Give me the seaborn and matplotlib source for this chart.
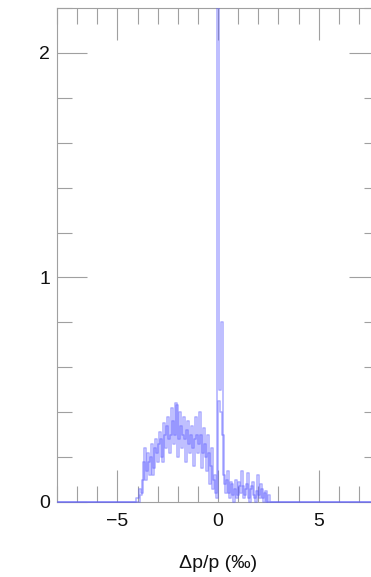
import numpy as np
import pandas as pd
import matplotlib
matplotlib.use("Agg")
import matplotlib.pyplot as plt
import seaborn as sns
from matplotlib.ticker import MultipleLocator
from matplotlib.transforms import Bbox, TransformedBbox

# ---- data ----
bin_width = 0.1
start_a = -4.0    # centre of the first bin of series A
start_b = -3.95   # centre of the first bin of series B
series_a = [0.02, 0.06, 0.04, 0.18, 0.10, 0.22, 0.12, 0.26, 0.15, 0.28,
            0.18, 0.31, 0.20, 0.35, 0.24, 0.38, 0.22, 0.42, 0.26, 0.44,
            0.20, 0.40, 0.24, 0.38, 0.18, 0.36, 0.22, 0.34, 0.16, 0.38,
            0.22, 0.40, 0.15, 0.33, 0.20, 0.30, 0.08, 0.24, 0.10, 0.04,
            2.40, 0.50, 0.80, 0.12, 0.04, 0.14, 0.02, 0.08, 0.00, 0.10,
            0.03, 0.07, 0.14, 0.02, 0.06, 0.13, 0.00, 0.07, 0.03, 0.00,
            0.12, 0.02, 0.06, 0.00, 0.05, 0.00]
series_b = [0.00, 0.03, 0.10, 0.24, 0.14, 0.18, 0.20, 0.12, 0.24, 0.22,
            0.26, 0.28, 0.18, 0.30, 0.34, 0.28, 0.30, 0.36, 0.30, 0.43,
            0.28, 0.34, 0.30, 0.28, 0.32, 0.26, 0.30, 0.24, 0.28, 0.30,
            0.26, 0.30, 0.22, 0.26, 0.14, 0.22, 0.16, 0.06, 0.12, 0.02,
            0.45, 0.40, 0.30, 0.08, 0.10, 0.04, 0.09, 0.03, 0.06, 0.02,
            0.09, 0.04, 0.07, 0.03, 0.08, 0.02, 0.06, 0.09, 0.02, 0.05,
            0.03, 0.08, 0.02, 0.04, 0.00, 0.03]
x_range = (-8.0, 8.0)
y_range = (0.0, 2.2)
x_label = "Δp/p (‰)"

# ---- figure ----
sns.set_style("white")
plt.rcParams["font.family"] = ["Liberation Sans", "DejaVu Sans"]

W, H, DPI = 371, 577, 100
fig = plt.figure(figsize=(W / DPI, H / DPI), dpi=DPI)
ax = fig.add_axes([57 / W, (577 - 502) / H, 322 / W, 494 / H])

series = [
    (start_a, series_a, 0.5),
    (start_b, series_b, 0.5),
]
for start, vals, a in series:
    centers = start + bin_width * np.arange(len(vals))
    df = pd.DataFrame({"x": centers, "w": vals})
    off = (start - x_range[0]) % bin_width
    brange = (x_range[0] + off - bin_width / 2, x_range[1] + off + bin_width / 2)
    sns.histplot(data=df, x="x", weights="w", binwidth=bin_width,
                 binrange=brange, element="step", fill=False,
                 color="#5a5aff", alpha=a, linewidth=1.1, zorder=3, ax=ax)

ax.set_xlim(*x_range)
ax.set_ylim(*y_range)
# clip at the top of the frame, but let the zero baseline show fully
clip = TransformedBbox(Bbox([[0.0, -0.01], [1.0, 1.0]]), ax.transAxes)
for line in ax.lines:
    line.set_clip_box(clip)
ax.set_ylabel("")
ax.set_xlabel(x_label, fontsize=14, labelpad=18, color="#111111")

ax.xaxis.set_major_locator(MultipleLocator(5))
ax.xaxis.set_minor_locator(MultipleLocator(1))
ax.yaxis.set_major_locator(MultipleLocator(1))
ax.yaxis.set_minor_locator(MultipleLocator(0.2))

grey = "#a0a0a0"
for s in ax.spines.values():
    s.set_color(grey)
    s.set_linewidth(0.8)
    s.set_zorder(1)
ax.tick_params(axis="x", which="major", direction="in", length=23, width=0.8,
               color=grey, top=True, bottom=True, labelsize=14, pad=8,
               labelcolor="#111111")
ax.tick_params(axis="x", which="minor", direction="in", length=11.5, width=0.8,
               color=grey, top=True, bottom=True)
ax.tick_params(axis="y", which="major", direction="in", length=21.5, width=0.8,
               color=grey, left=True, right=True, labelsize=14, pad=5,
               labelcolor="#111111")
ax.tick_params(axis="y", which="minor", direction="in", length=10.8, width=0.8,
               color=grey, left=True, right=True)

fig.savefig("out.png", dpi=DPI, facecolor="white")
